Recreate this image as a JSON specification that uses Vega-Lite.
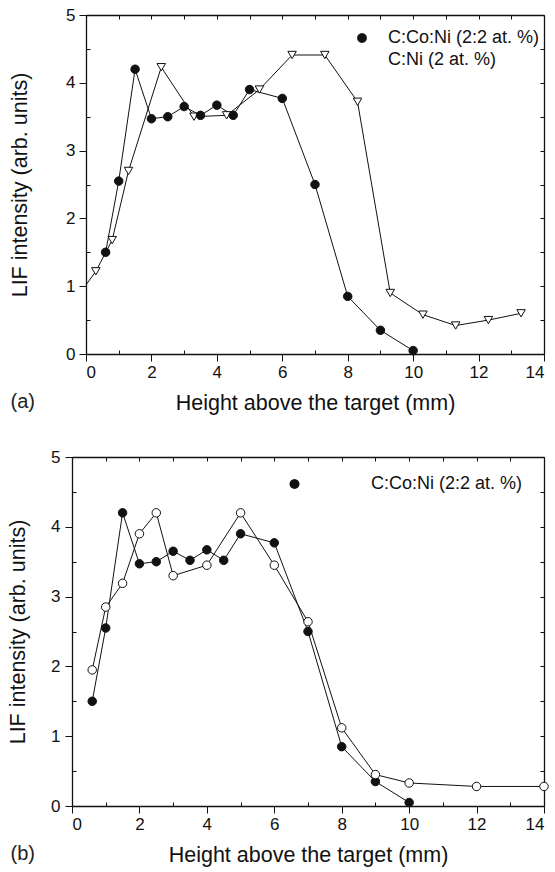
{
  "$schema": "https://vega.github.io/schema/vega-lite/v6.json",
  "padding": {"left": 7, "top": 6, "right": 8, "bottom": 4},
  "background": "white",
  "spacing": 34,
  "resolve": {"scale": {"shape": "independent", "fill": "independent"}, "legend": {"shape": "independent", "fill": "independent"}},
  "config": {
    "font": "Liberation Sans",
    "view": {"stroke": null},
    "axis": {"grid": false, "domainColor": "#111", "domainWidth": 1.3, "tickColor": "#111", "tickWidth": 1, "labelColor": "#111", "titleColor": "#111", "labelFont": "Liberation Sans", "titleFont": "Liberation Sans", "titleFontWeight": "normal", "labelFontSize": 17, "titleFontSize": 21.5},
    "legend": {"labelFont": "Liberation Sans", "labelColor": "#111"},
    "title": {"font": "Liberation Sans", "fontWeight": "normal", "color": "#222", "fontSize": 20}
  },
  "datasets": {
    "a": [
      {"h": 0, "v": 1.02, "s": "C:Ni (2 at. %)"},
      {"h": 0.3, "v": 1.22, "s": "C:Ni (2 at. %)"},
      {"h": 0.8, "v": 1.68, "s": "C:Ni (2 at. %)"},
      {"h": 1.3, "v": 2.7, "s": "C:Ni (2 at. %)"},
      {"h": 2.3, "v": 4.23, "s": "C:Ni (2 at. %)"},
      {"h": 3.3, "v": 3.5, "s": "C:Ni (2 at. %)"},
      {"h": 4.3, "v": 3.52, "s": "C:Ni (2 at. %)"},
      {"h": 5.3, "v": 3.9, "s": "C:Ni (2 at. %)"},
      {"h": 6.3, "v": 4.41, "s": "C:Ni (2 at. %)"},
      {"h": 7.3, "v": 4.41, "s": "C:Ni (2 at. %)"},
      {"h": 8.3, "v": 3.72, "s": "C:Ni (2 at. %)"},
      {"h": 9.3, "v": 0.9, "s": "C:Ni (2 at. %)"},
      {"h": 10.3, "v": 0.58, "s": "C:Ni (2 at. %)"},
      {"h": 11.3, "v": 0.42, "s": "C:Ni (2 at. %)"},
      {"h": 12.3, "v": 0.5, "s": "C:Ni (2 at. %)"},
      {"h": 13.3, "v": 0.6, "s": "C:Ni (2 at. %)"},
      {"h": 0.6, "v": 1.5, "s": "C:Co:Ni (2:2 at. %)"},
      {"h": 1.0, "v": 2.55, "s": "C:Co:Ni (2:2 at. %)"},
      {"h": 1.5, "v": 4.2, "s": "C:Co:Ni (2:2 at. %)"},
      {"h": 2.0, "v": 3.47, "s": "C:Co:Ni (2:2 at. %)"},
      {"h": 2.5, "v": 3.5, "s": "C:Co:Ni (2:2 at. %)"},
      {"h": 3.0, "v": 3.65, "s": "C:Co:Ni (2:2 at. %)"},
      {"h": 3.5, "v": 3.52, "s": "C:Co:Ni (2:2 at. %)"},
      {"h": 4.0, "v": 3.67, "s": "C:Co:Ni (2:2 at. %)"},
      {"h": 4.5, "v": 3.52, "s": "C:Co:Ni (2:2 at. %)"},
      {"h": 5.0, "v": 3.9, "s": "C:Co:Ni (2:2 at. %)"},
      {"h": 6.0, "v": 3.77, "s": "C:Co:Ni (2:2 at. %)"},
      {"h": 7.0, "v": 2.5, "s": "C:Co:Ni (2:2 at. %)"},
      {"h": 8.0, "v": 0.85, "s": "C:Co:Ni (2:2 at. %)"},
      {"h": 9.0, "v": 0.35, "s": "C:Co:Ni (2:2 at. %)"},
      {"h": 10.0, "v": 0.05, "s": "C:Co:Ni (2:2 at. %)"}
    ],
    "b": [
      {"h": 0.6, "v": 1.5, "s": "f"},
      {"h": 1.0, "v": 2.55, "s": "f"},
      {"h": 1.5, "v": 4.2, "s": "f"},
      {"h": 2.0, "v": 3.47, "s": "f"},
      {"h": 2.5, "v": 3.5, "s": "f"},
      {"h": 3.0, "v": 3.65, "s": "f"},
      {"h": 3.5, "v": 3.52, "s": "f"},
      {"h": 4.0, "v": 3.67, "s": "f"},
      {"h": 4.5, "v": 3.52, "s": "f"},
      {"h": 5.0, "v": 3.9, "s": "f"},
      {"h": 6.0, "v": 3.77, "s": "f"},
      {"h": 7.0, "v": 2.5, "s": "f"},
      {"h": 8.0, "v": 0.85, "s": "f"},
      {"h": 9.0, "v": 0.35, "s": "f"},
      {"h": 10.0, "v": 0.05, "s": "f"},
      {"h": 0.6, "v": 1.95, "s": "o"},
      {"h": 1.0, "v": 2.85, "s": "o"},
      {"h": 1.5, "v": 3.19, "s": "o"},
      {"h": 2.0, "v": 3.9, "s": "o"},
      {"h": 2.5, "v": 4.2, "s": "o"},
      {"h": 3.0, "v": 3.3, "s": "o"},
      {"h": 4.0, "v": 3.45, "s": "o"},
      {"h": 5.0, "v": 4.2, "s": "o"},
      {"h": 6.0, "v": 3.45, "s": "o"},
      {"h": 7.0, "v": 2.64, "s": "o"},
      {"h": 8.0, "v": 1.12, "s": "o"},
      {"h": 9.0, "v": 0.45, "s": "o"},
      {"h": 10.0, "v": 0.33, "s": "o"},
      {"h": 12.0, "v": 0.28, "s": "o"},
      {"h": 14.0, "v": 0.28, "s": "o"}
    ]
  },
  "vconcat": [
    {
      "width": 472,
      "height": 339,
      "data": {"name": "a"},
      "title": {"text": "(a)", "orient": "bottom", "anchor": "start", "frame": "bounds", "offset": -22, "dx": 1},
      "layer": [
        {
          "mark": {"type": "line", "color": "#111", "strokeWidth": 1},
          "encoding": {
            "x": {"field": "h", "type": "quantitative", "scale": {"domain": [0, 14], "range": [14, 472], "nice": false, "zero": false},
              "axis": {"orient": "bottom", "values": [0, 2, 4, 6, 8, 10, 12, 14], "tickSize": 7, "labelPadding": 3, "title": "Height above the target (mm)", "titlePadding": 12}},
            "y": {"field": "v", "type": "quantitative", "scale": {"domain": [0, 5], "nice": false},
              "axis": {"orient": "left", "offset": -14, "values": [0, 1, 2, 3, 4, 5], "tickSize": 7, "labelPadding": 4, "title": "LIF intensity (arb. units)", "titlePadding": 34}},
            "detail": {"field": "s"}
          }
        },
        {
          "transform": [{"filter": "datum.h > 0"}],
          "mark": {"type": "point", "filled": true, "opacity": 1, "stroke": "#111", "strokeWidth": 1},
          "encoding": {
            "x": {"field": "h", "type": "quantitative",
              "axis": {"orient": "top", "values": [0, 1, 2, 3, 4, 5, 6, 7, 8, 9, 10, 11, 12, 13, 14], "tickSize": -4, "labels": false, "title": null}},
            "y": {"field": "v", "type": "quantitative",
              "axis": {"orient": "right", "values": [0, 0.5, 1, 1.5, 2, 2.5, 3, 3.5, 4, 4.5, 5], "tickSize": -4, "labels": false, "title": null}},
            "shape": {"field": "s", "type": "nominal",
              "scale": {"domain": ["C:Co:Ni (2:2 at. %)", "C:Ni (2 at. %)"], "range": ["circle", "triangle-down"]}, "legend": null},
            "fill": {"field": "s", "type": "nominal",
              "scale": {"domain": ["C:Co:Ni (2:2 at. %)", "C:Ni (2 at. %)"], "range": ["#111", "white"]}, "legend": null},
            "size": {"value": 72}
          }
        },
        {
          "transform": [{"filter": "false"}],
          "mark": {"type": "point", "filled": true, "opacity": 1, "stroke": "#111", "strokeWidth": 1},
          "encoding": {
            "x": {"field": "h", "type": "quantitative",
              "axis": {"orient": "bottom", "values": [1, 3, 5, 7, 9, 11, 13], "tickSize": -4, "labels": false, "domain": false, "title": null}},
            "y": {"field": "v", "type": "quantitative",
              "axis": {"orient": "left", "offset": -14, "values": [0.5, 1.5, 2.5, 3.5, 4.5], "tickSize": -4, "labels": false, "domain": false, "title": null}},
            "shape": {"field": "s", "type": "nominal",
              "scale": {"domain": ["C:Co:Ni (2:2 at. %)", "C:Ni (2 at. %)"], "range": ["M-1,0H-0.24M0.24,0H1M0.24,0L0.222,0.092L0.17,0.17L0.092,0.222L0,0.24L-0.092,0.222L-0.17,0.17L-0.222,0.092L-0.24,0L-0.222,-0.092L-0.17,-0.17L-0.092,-0.222L0,-0.24L0.092,-0.222L0.17,-0.17L0.222,-0.092Z", "M-1,0H-0.1M0.1,0H1M-0.2,-0.17L0.2,-0.17L0,0.18Z"]},
              "legend": {"title": null, "orient": "none", "legendX": 269, "legendY": 12, "labelFontSize": 18, "labelOffset": 5, "symbolSize": 1681, "symbolStrokeColor": "#111", "symbolStrokeWidth": 1, "clipHeight": 22, "rowPadding": 0, "padding": 0}},
            "fill": {"field": "s", "type": "nominal",
              "scale": {"domain": ["C:Co:Ni (2:2 at. %)", "C:Ni (2 at. %)"], "range": ["#111", "white"]},
              "legend": {"title": null, "orient": "none", "legendX": 269, "legendY": 12, "labelFontSize": 18, "labelOffset": 5, "symbolSize": 1681, "symbolStrokeColor": "#111", "symbolStrokeWidth": 1, "clipHeight": 22, "rowPadding": 0, "padding": 0}}
          }
        }
      ],
      "resolve": {"axis": {"x": "independent", "y": "independent"}, "scale": {"shape": "independent", "fill": "independent"}}
    },
    {
      "width": 472,
      "height": 349,
      "data": {"name": "b"},
      "title": {"text": "(b)", "orient": "bottom", "anchor": "start", "frame": "bounds", "offset": -22, "dx": 3},
      "layer": [
        {
          "mark": {"type": "line", "color": "#111", "strokeWidth": 1},
          "encoding": {
            "x": {"field": "h", "type": "quantitative", "scale": {"domain": [0, 14], "nice": false, "zero": false},
              "axis": {"orient": "bottom", "values": [0, 2, 4, 6, 8, 10, 12, 14], "tickSize": 7, "labelPadding": 3, "title": "Height above the target (mm)", "titlePadding": 12}},
            "y": {"field": "v", "type": "quantitative", "scale": {"domain": [0, 5], "nice": false},
              "axis": {"orient": "left", "values": [0, 1, 2, 3, 4, 5], "tickSize": 7, "labelPadding": 5, "title": "LIF intensity (arb. units)", "titlePadding": 21}},
            "detail": {"field": "s"}
          }
        },
        {
          "mark": {"type": "point", "filled": true, "opacity": 1, "stroke": "#111", "strokeWidth": 1},
          "encoding": {
            "x": {"field": "h", "type": "quantitative",
              "axis": {"orient": "top", "values": [0, 1, 2, 3, 4, 5, 6, 7, 8, 9, 10, 11, 12, 13, 14], "tickSize": -4, "labels": false, "title": null}},
            "y": {"field": "v", "type": "quantitative",
              "axis": {"orient": "right", "values": [0, 0.5, 1, 1.5, 2, 2.5, 3, 3.5, 4, 4.5, 5], "tickSize": -4, "labels": false, "title": null}},
            "shape": {"field": "s", "type": "nominal",
              "scale": {"domain": ["f", "o"], "range": ["circle", "circle"]}, "legend": null},
            "fill": {"field": "s", "type": "nominal",
              "scale": {"domain": ["f", "o"], "range": ["#111", "white"]}, "legend": null},
            "size": {"value": 72}
          }
        },
        {
          "transform": [{"filter": "false"}],
          "mark": {"type": "point", "filled": true, "opacity": 1, "stroke": "#111", "strokeWidth": 1},
          "encoding": {
            "x": {"field": "h", "type": "quantitative",
              "axis": {"orient": "bottom", "values": [1, 3, 5, 7, 9, 11, 13], "tickSize": -4, "labels": false, "domain": false, "title": null}},
            "y": {"field": "v", "type": "quantitative",
              "axis": {"orient": "left", "values": [0.5, 1.5, 2.5, 3.5, 4.5], "tickSize": -4, "labels": false, "domain": false, "title": null}},
            "shape": {"field": "s", "type": "nominal",
              "scale": {"domain": ["f", "o"], "range": ["M-1,0H-0.25M0.25,0H1M0.25,0L0.231,0.096L0.177,0.177L0.096,0.231L0,0.25L-0.096,0.231L-0.177,0.177L-0.231,0.096L-0.25,0L-0.231,-0.096L-0.177,-0.177L-0.096,-0.231L0,-0.25L0.096,-0.231L0.177,-0.177L0.231,-0.096Z", "M-1,0H-0.25M0.25,0H1M0.25,0L0.231,0.096L0.177,0.177L0.096,0.231L0,0.25L-0.096,0.231L-0.177,0.177L-0.231,0.096L-0.25,0L-0.231,-0.096L-0.177,-0.177L-0.096,-0.231L0,-0.25L0.096,-0.231L0.177,-0.177L0.231,-0.096Z"]},
              "legend": {"title": null, "orient": "none", "legendX": 202, "legendY": 16, "columns": 2, "columnPadding": 5, "labelFontSize": 18, "labelOffset": 5, "symbolSize": 1600, "symbolStrokeColor": "#111", "symbolStrokeWidth": 1, "clipHeight": 22, "rowPadding": 0, "padding": 0,
                "labelExpr": "datum.value === 'f' ? '' : 'C:Co:Ni (2:2 at. %)'"}},
            "fill": {"field": "s", "type": "nominal",
              "scale": {"domain": ["f", "o"], "range": ["#111", "white"]},
              "legend": {"title": null, "orient": "none", "legendX": 202, "legendY": 16, "columns": 2, "columnPadding": 5, "labelFontSize": 18, "labelOffset": 5, "symbolSize": 1600, "symbolStrokeColor": "#111", "symbolStrokeWidth": 1, "clipHeight": 22, "rowPadding": 0, "padding": 0,
                "labelExpr": "datum.value === 'f' ? '' : 'C:Co:Ni (2:2 at. %)'"}}
          }
        }
      ],
      "resolve": {"axis": {"x": "independent", "y": "independent"}, "scale": {"shape": "independent", "fill": "independent"}}
    }
  ]
}
